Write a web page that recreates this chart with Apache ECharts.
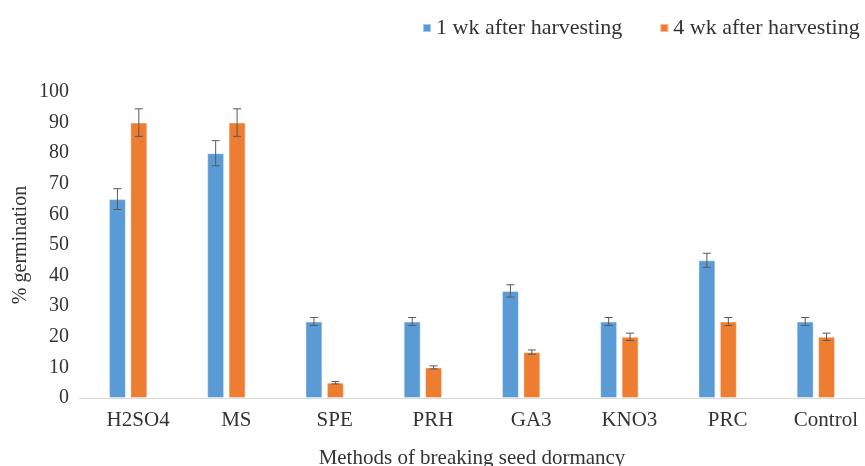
<!DOCTYPE html>
<html>
<head>
<meta charset="utf-8">
<script src="https://cdn.jsdelivr.net/npm/echarts@6/dist/echarts.min.js"></script>
<style>html,body{margin:0;padding:0;background:#fff;overflow:hidden}#c{width:865px;height:466px}</style>
</head>
<body>
<div id="c"></div>
<script>
const categories = ['H2SO4', 'MS', 'SPE', 'PRH', 'GA3', 'KNO3', 'PRC', 'Control'];
const seriesNames = ['1 wk after harvesting', '4 wk after harvesting'];
const week1 = [65, 80, 25, 25, 35, 25, 45, 25];
const week4 = [90, 90, 5, 10, 15, 20, 25, 20];
const week1Err = [3.4, 4.1, 1.3, 1.3, 2.0, 1.3, 2.3, 1.3];
const week4Err = [4.5, 4.5, 0.4, 0.5, 0.7, 1.2, 1.3, 1.2];
const yTicks = { min: 0, max: 100, interval: 10 };

const BAR_W = 17, BAR_GAP = '26%';
const FONT = '"Liberation Serif", "DejaVu Serif", serif';

function errData(vals, errs) {
  return vals.map((v, i) => [i, v - errs[i], v + errs[i]]);
}
function errSeries(idx, vals, errs) {
  return {
    type: 'custom',
    name: seriesNames[idx] + ' err',
    z: 10,
    silent: true,
    data: errData(vals, errs),
    encode: { x: 0, y: [1, 2] },
    renderItem: function (params, api) {
      const layout = api.barLayout({ count: 2, barWidth: BAR_W, barGap: BAR_GAP });
      const off = layout[idx].offsetCenter;
      const lo = api.coord([api.value(0), api.value(1)]);
      const hi = api.coord([api.value(0), api.value(2)]);
      const x = lo[0] + off;
      const cap = 4;
      const st = { stroke: '#595959', lineWidth: 1, fill: null };
      return {
        type: 'group',
        children: [
          { type: 'line', shape: { x1: x, y1: lo[1], x2: x, y2: hi[1] }, style: st },
          { type: 'line', shape: { x1: x - cap, y1: lo[1], x2: x + cap, y2: lo[1] }, style: st },
          { type: 'line', shape: { x1: x - cap, y1: hi[1], x2: x + cap, y2: hi[1] }, style: st }
        ]
      };
    }
  };
}

const chart = echarts.init(document.getElementById('c'), null, { renderer: 'canvas' });
chart.setOption({
  animation: false,
  textStyle: { fontFamily: FONT },
  legend: {
    data: seriesNames,
    left: 417,
    top: 12,
    width: 600,
    icon: 'rect',
    itemWidth: 8,
    itemHeight: 8,
    itemGap: 37,
    textStyle: { fontFamily: FONT, fontSize: 22, color: '#333' }
  },
  grid: { left: 79, right: 0, top: 92, bottom: 68, containLabel: false, outerBoundsMode: 'none' },
  xAxis: {
    type: 'category',
    data: categories,
    axisLine: { lineStyle: { color: '#d9d9d9', width: 1 } },
    axisTick: { show: false },
    axisLabel: { fontFamily: FONT, fontSize: 21, color: '#333', margin: 12, padding: [0, 0, 0, 20] },
    name: 'Methods of breaking seed dormancy',
    nameLocation: 'middle',
    nameGap: 50,
    nameMoveOverlap: false,
    nameTextStyle: { fontFamily: FONT, fontSize: 21, color: '#333' }
  },
  yAxis: {
    type: 'value',
    min: yTicks.min,
    max: yTicks.max,
    interval: yTicks.interval,
    splitLine: { show: false },
    axisLine: { show: false },
    axisTick: { show: false },
    axisLabel: { fontFamily: FONT, fontSize: 20, color: '#333', margin: 10 },
    name: '% germination',
    nameLocation: 'middle',
    nameGap: 48,
    nameMoveOverlap: false,
    nameTextStyle: { fontFamily: FONT, fontSize: 20, color: '#333' }
  },
  series: [
    {
      type: 'bar', name: seriesNames[0], data: week1,
      barWidth: BAR_W, barGap: BAR_GAP,
      itemStyle: { color: '#5B9BD5', borderColor: 'rgba(255,255,255,0.45)', borderWidth: 1 }
    },
    {
      type: 'bar', name: seriesNames[1], data: week4,
      barWidth: BAR_W, barGap: BAR_GAP,
      itemStyle: { color: '#ED7D31', borderColor: 'rgba(255,255,255,0.45)', borderWidth: 1 }
    },
    errSeries(0, week1, week1Err),
    errSeries(1, week4, week4Err)
  ]
});
</script>
</body>
</html>
